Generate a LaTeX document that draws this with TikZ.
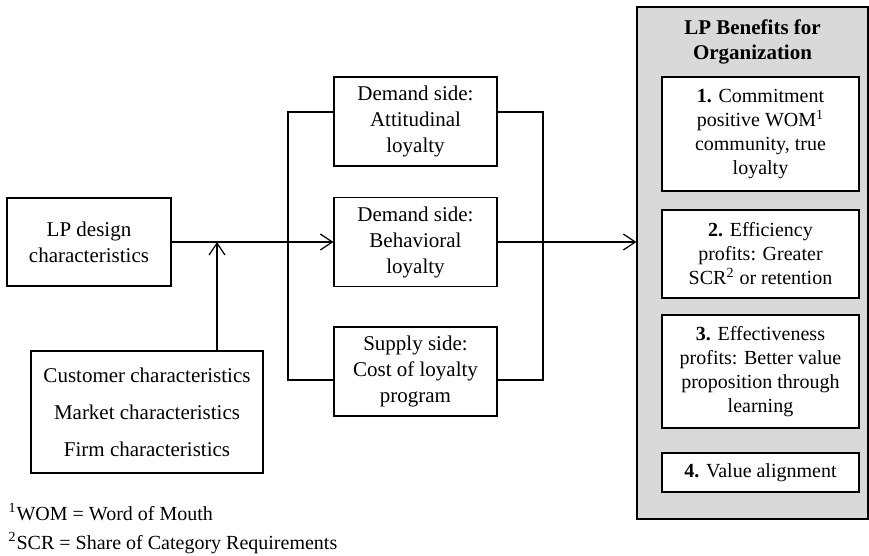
\documentclass[tikz,border=0pt]{standalone}
\usepackage{fontspec}
\setmainfont{Liberation Serif}
\usetikzlibrary{arrows.meta}
\definecolor{panelgray}{RGB}{217,217,217}

\begin{document}
\begin{tikzpicture}[x=0.5pt, y=-0.5pt, line width=0.6pt,
	box/.style={draw, rectangle, align=center, inner sep=0pt, font=\fontsize{10.5}{13}\selectfont},
	benefit/.style={draw, rectangle, fill=white, align=center, inner sep=0pt, minimum width=98.5pt, font=\fontsize{10}{12}\selectfont},
	flow/.style={-{Straight Barb[length=6pt, width=8pt]}}]
	\useasboundingbox (0,0) rectangle (869,556);

	% left side
	\node[box, minimum width=82pt, minimum height=44pt] (design) at (89,242) {LP design\\characteristics};
	\node[box, minimum width=116pt, minimum height=61pt] (factors) at (147,412) {Customer characteristics\\[5.5pt]Market characteristics\\[5.5pt]Firm characteristics};

	% middle
	\node[box, minimum width=81.5pt, minimum height=44.5pt] (attitudinal) at (415.5,121.5) {Demand side:\\Attitudinal\\loyalty};
	\node[box, minimum width=81.5pt, minimum height=44.5pt] (behavioral) at (415.5,242) {Demand side:\\Behavioral\\loyalty};
	\node[box, minimum width=81.5pt, minimum height=44.5pt] (supply) at (415.5,371.5) {Supply side:\\Cost of loyalty\\program};

	% benefits panel
	\node[draw, rectangle, fill=panelgray, minimum width=115.5pt, minimum height=256pt, inner sep=0pt] (panel) at (752.5,263) {};
	\node[align=center, inner sep=0pt, font=\fontsize{10.5}{12.5}\selectfont\bfseries] (title) at (752.5,42) {LP Benefits for\\Organization};
	\node[benefit, minimum height=57pt] (b1) at (760.5,134) {\textbf{1.} Commitment\\positive WOM\textsuperscript{1}\\community, true\\loyalty};
	\node[benefit, minimum height=44pt] (b2) at (760.5,254) {\textbf{2.} Efficiency\\profits: Greater\\SCR\textsuperscript{2} or retention};
	\node[benefit, minimum height=56.5pt] (b3) at (760.5,371.5) {\textbf{3.} Effectiveness\\profits: Better value\\proposition through\\learning};
	\node[benefit, minimum height=19.5pt] (b4) at (760.5,472.5) {\textbf{4.} Value alignment};

	% brackets
	\coordinate (join) at (217,242);
	\coordinate (lefttop) at (288,112);
	\coordinate (leftbot) at (288,380);
	\coordinate (righttop) at (543,112);
	\coordinate (rightbot) at (543,380);

	\draw[flow] (design.east) -- (behavioral.west);
	\draw[flow] (factors.north -| join) -- (join);
	\draw (attitudinal.west |- lefttop) -- (lefttop) -- (leftbot) -- (supply.west |- leftbot);
	\draw (attitudinal.east |- righttop) -- (righttop) -- (rightbot) -- (supply.east |- rightbot);
	\draw[flow] (behavioral.east) -- (behavioral.east -| panel.west);

	% footnotes
	\node[anchor=west, inner sep=0pt, font=\fontsize{10}{12}\selectfont] (note1) at (8,512) {\textsuperscript{1}WOM = Word of Mouth};
	\node[anchor=west, inner sep=0pt, font=\fontsize{10}{12}\selectfont] (note2) at (8,543) {\textsuperscript{2}SCR = Share of Category Requirements};
\end{tikzpicture}
\end{document}
